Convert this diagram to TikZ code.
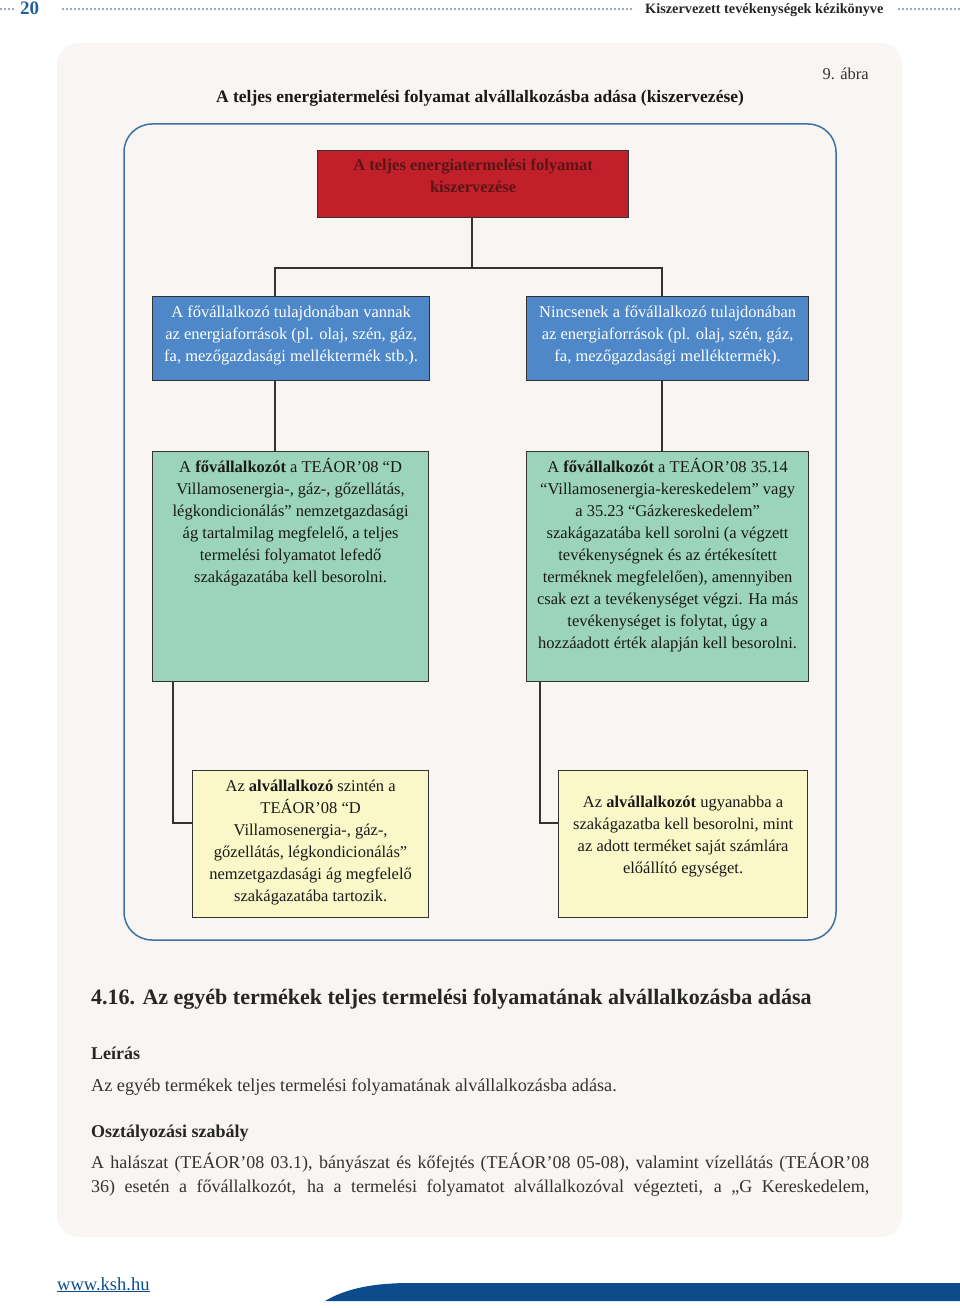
\documentclass[tikz,border=0pt]{standalone}
\usepackage{fontspec}
\setmainfont{Liberation Serif}
\usetikzlibrary{calc}
\definecolor{panelbg}{HTML}{F8F5F2}
\definecolor{frameblue}{HTML}{3A72A8}
\definecolor{boxred}{HTML}{C1202B}
\definecolor{redtext}{HTML}{5A1515}
\definecolor{boxblue}{HTML}{4E88C8}
\definecolor{boxteal}{HTML}{9BD4BA}
\definecolor{boxyellow}{HTML}{FAF8C8}
\definecolor{hdrblue}{HTML}{1F5FA0}
\definecolor{dotcol}{HTML}{9AA9C0}
\definecolor{footblue}{HTML}{0C4C8C}
\definecolor{edgecol}{HTML}{333333}
\newcommand{\bxt}[4]{\parbox[t][#1][t]{#2}{\centering\vspace*{#3}\strut #4}}
\tikzset{
  chartbox/.style={draw=edgecol, line width=1.2pt, inner sep=0pt, anchor=north west,
    font=\fontsize{16.5}{22}\selectfont, text=black!90},
  conn/.style={draw=edgecol, line width=1.3pt},
  hdrdots/.style={draw=dotcol, line width=1.6pt, dash pattern=on 1.6pt off 2.4pt},
  bodytext/.style={inner sep=0pt, anchor=base west, text=black!80}
}
\begin{document}
\begin{tikzpicture}[x=1pt,y=-1pt]
\useasboundingbox (0,0) rectangle (960,1308);
% header
\draw[hdrdots] (0,9) -- (15,9);
\node[inner sep=0pt, anchor=base west, text=hdrblue, font=\fontsize{19}{20}\selectfont\bfseries] (pgnum) at (20,15) {20};
\draw[hdrdots] (62,9) -- (632,9);
\node[inner sep=0pt, anchor=base west, font=\fontsize{14.3}{16}\selectfont\bfseries, text=black!85] (hdrtitle) at (645,14) {Kiszervezett tevékenységek kézikönyve};
\draw[hdrdots] (898,9) -- (960,9);
% panel
\fill[panelbg, rounded corners=22pt] (57,43) rectangle (902,1237);
\node[inner sep=0pt, anchor=base east, font=\fontsize{16.5}{18}\selectfont, text=black!80] (fignum) at (869,80) {9. ábra};
\node[inner sep=0pt, anchor=base, font=\fontsize{17.5}{20}\selectfont\bfseries, text=black!90] (figtitle) at (480,103) {A teljes energiatermelési folyamat alvállalkozásba adása (kiszervezése)};
% frame
\draw[frameblue, line width=1.5pt, rounded corners=28pt] (124,124) rectangle (836,940);
% boxes
\node[chartbox, fill=boxred, text=redtext, font=\fontsize{16.5}{22}\selectfont\bfseries] (red) at (317,150)
  {\bxt{67pt}{311pt}{5pt}{A teljes energiatermelési folyamat\\ kiszervezése}};
\node[chartbox, fill=boxblue, text=white] (bL) at (152,296)
  {\bxt{84pt}{277pt}{5pt}{A fővállalkozó tulajdonában vannak\\ az energiaforrások (pl. olaj, szén, gáz,\\ fa, mezőgazdasági melléktermék stb.).}};
\node[chartbox, fill=boxblue, text=white] (bR) at (526,296)
  {\bxt{84pt}{282pt}{5pt}{Nincsenek a fővállalkozó tulajdonában\\ az energiaforrások (pl. olaj, szén, gáz,\\ fa, mezőgazdasági melléktermék).}};
\node[chartbox, fill=boxteal] (tL) at (152,451)
  {\bxt{230pt}{276pt}{5pt}{A \textbf{fővállalkozót} a TEÁOR’08 “D\\ Villamosenergia-, gáz-, gőzellátás,\\ légkondicionálás” nemzetgazdasági\\ ág tartalmilag megfelelő, a teljes\\ termelési folyamatot lefedő\\ szakágazatába kell besorolni.}};
\node[chartbox, fill=boxteal] (tR) at (526,451)
  {\bxt{230pt}{282pt}{5pt}{A \textbf{fővállalkozót} a TEÁOR’08 35.14\\ “Villamosenergia-kereskedelem” vagy\\ a 35.23 “Gázkereskedelem”\\ szakágazatába kell sorolni (a végzett\\ tevékenységnek és az értékesített\\ terméknek megfelelően), amennyiben\\ csak ezt a tevékenységet végzi. Ha más\\ tevékenységet is folytat, úgy a\\ hozzáadott érték alapján kell besorolni.}};
\node[chartbox, fill=boxyellow] (yL) at (192,770)
  {\bxt{147pt}{236pt}{5pt}{Az \textbf{alvállalkozó} szintén a\\ TEÁOR’08 “D\\ Villamosenergia-, gáz-,\\ gőzellátás, légkondicionálás”\\ nemzetgazdasági ág megfelelő\\ szakágazatába tartozik.}};
\node[chartbox, fill=boxyellow] (yR) at (558,770)
  {\bxt{147pt}{249pt}{21pt}{Az \textbf{alvállalkozót} ugyanabba a\\ szakágazatba kell besorolni, mint\\ az adott terméket saját számlára\\ előállító egységet.}};
% connectors
\coordinate (jn) at (472,268);
\draw[conn] (red.south -| jn) -- (jn);
\draw[conn] ([xshift=123pt]bL.north west) |- (jn) -| ([xshift=136pt]bR.north west);
\draw[conn] ([xshift=123pt]bL.south west) -- ([xshift=123pt]tL.north west);
\draw[conn] ([xshift=136pt]bR.south west) -- ([xshift=136pt]tR.north west);
\draw[conn] ([xshift=21pt]tL.south west) |- ([yshift=-53pt]yL.north west);
\draw[conn] ([xshift=14pt]tR.south west) |- ([yshift=-53pt]yR.north west);
% text below
\node[bodytext, font=\fontsize{22}{24}\selectfont\bfseries, text=black!85] (sec) at (91,1004) {4.16. Az egyéb termékek teljes termelési folyamatának alvállalkozásba adása};
\node[bodytext, font=\fontsize{18}{20}\selectfont\bfseries, text=black!85] (leiras) at (91,1059) {Leírás};
\node[bodytext, font=\fontsize{18.2}{20}\selectfont] (desc) at (91,1091) {Az egyéb termékek teljes termelési folyamatának alvállalkozásba adása.};
\node[bodytext, font=\fontsize{18}{20}\selectfont\bfseries, text=black!85] (oszt) at (91,1137) {Osztályozási szabály};
\node[bodytext, font=\fontsize{18}{20}\selectfont] (par1) at (91,1168) {\hbox to 778pt{A halászat (TEÁOR’08 03.1), bányászat és kőfejtés (TEÁOR’08 05-08), valamint vízellátás (TEÁOR’08}};
\node[bodytext, font=\fontsize{18}{20}\selectfont] (par2) at (91,1192) {\hbox to 778pt{36) esetén a fővállalkozót, ha a termelési folyamatot alvállalkozóval végezteti, a „G Kereskedelem,}};
% footer
\node[bodytext, font=\fontsize{18.5}{20}\selectfont, text=footblue] (url) at (57,1290) {\underline{www.ksh.hu}};
\fill[footblue] (325,1301) .. controls (345,1289) and (372,1283) .. (410,1283) -- (960,1283) -- (960,1301) -- cycle;
\end{tikzpicture}
\end{document}
